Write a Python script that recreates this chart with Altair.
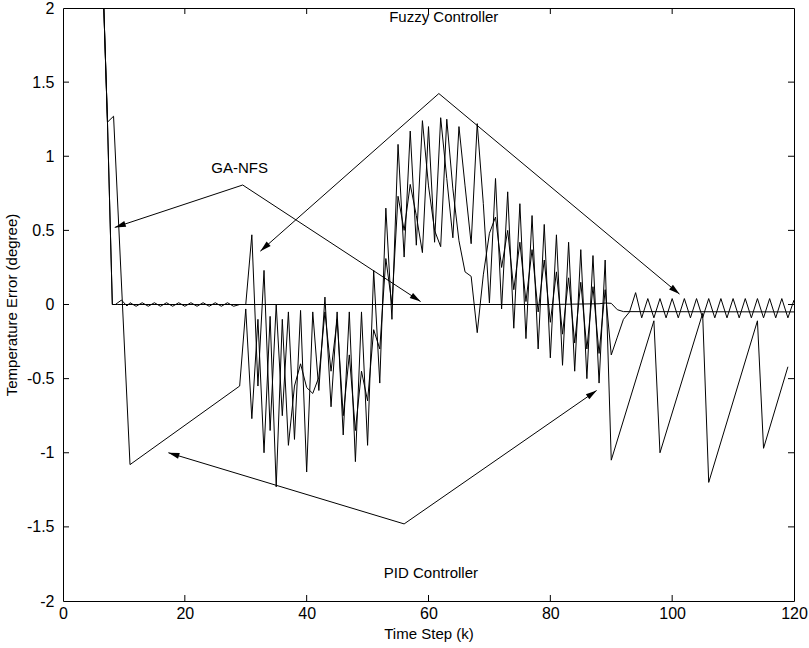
import math
import altair as alt
import pandas as pd

FONT = "Liberation Sans, Arial, sans-serif"
W, H = 731, 593
X_DOM = [0, 120]
Y_DOM = [-2, 2]

x_ticks = [0, 20, 40, 60, 80, 100, 120]
y_ticks = [-2, -1.5, -1, -0.5, 0, 0.5, 1, 1.5, 2]

# ---- GA-NFS ----
ga_k = [6.7, 7.3, 8.1, 9.0, 80, 88, 89, 90, 91, 92, 120]
ga_err = [2.0, 1.23, 0.0, 0.0, 0.0, 0.005, 0.01, 0.008, -0.035, -0.048, -0.05]

# ---- Fuzzy controller ----
fz_k = [6.7, 7.3, 8.1, 8.6, 9.6, 10.5] + list(range(11, 121))
fz_err = [2.0, 1.23, 0.0, 0.0, 0.03, -0.01,
          # k = 11 .. 28 (small ripple)
          0.012, -0.012, 0.012, -0.012, 0.012, -0.012, 0.012, -0.012, 0.012,
          -0.012, 0.012, -0.012, 0.012, -0.012, 0.012, -0.012, 0.012, -0.012,
          # k = 29 .. 50
          0.0, 0.0, 0.47, -0.55, 0.23, -0.85, 0.0, -0.75, -0.05, -0.91, -0.04,
          -1.13, -0.05, -0.58, 0.05, -0.69, -0.05, -0.88, -0.05, -1.06, -0.05, -0.95,
          # k = 51 .. 70
          0.23, -0.53, 0.65, -0.1, 1.08, 0.32, 1.17, 0.4, 1.24, 0.8,
          0.5, 0.39, 1.25, 0.78, 0.43, 0.22, 0.19, -0.19, 0.2, 0.48,
          # k = 71 .. 93
          0.59, 0.25, 0.5, 0.1, 0.42, 0.02, 0.37, -0.05, 0.3, -0.12,
          0.22, -0.2, 0.18, -0.26, 0.15, -0.3, 0.12, -0.33, 0.1, -0.34,
          -0.22, -0.1, -0.05,
          # k = 94 .. 120
          0.08, -0.09, 0.04, -0.09, 0.04, -0.09, 0.04, -0.09, 0.04, -0.09,
          0.04, -0.09, 0.04, -0.09, 0.04, -0.09, 0.04, -0.09, 0.04, -0.09,
          0.04, -0.09, 0.04, -0.09, 0.04, -0.09, 0.03]

# ---- PID controller ----
pid_k = [6.7, 7.3, 8.3, 11, 29] + list(range(30, 91)) + [97, 98, 105, 106, 114, 115, 119]
pid_err = [2.0, 1.23, 1.27, -1.08, -0.55,
           # k = 30 .. 50
           -0.03, -0.77, -0.1, -1.0, -0.08, -1.23, -0.1, -0.95, -0.55, -0.4,
           -0.56, -0.6, -0.49, -0.05, -0.45, -0.1, -0.75, -0.34, -0.85, -0.45, -0.65,
           # k = 51 .. 70
           -0.17, -0.3, 0.31, 0.0, 0.73, 0.5, 0.81, 0.6, 0.35, 1.2,
           0.42, 1.26, 0.85, 0.45, 1.2, 0.8, 0.41, 1.22, 0.68, 0.01,
           # k = 71 .. 90
           0.85, -0.03, 0.76, -0.16, 0.68, -0.23, 0.6, -0.3, 0.54, -0.36,
           0.47, -0.41, 0.42, -0.45, 0.37, -0.5, 0.33, -0.53, 0.3, -1.05,
           # sawtooth
           -0.11, -1.0, -0.06, -1.2, -0.11, -0.97, -0.42]

rows = []
for name, ks, es in [("GA-NFS", ga_k, ga_err), ("Fuzzy Controller", fz_k, fz_err),
                     ("PID Controller", pid_k, pid_err)]:
    for i, (k, e) in enumerate(zip(ks, es)):
        rows.append({"series": name, "k": k, "err": e, "idx": i})
df = pd.DataFrame(rows)

# ---- annotations ----
label_text = ["Fuzzy Controller", "GA-NFS", "PID Controller"]
label_x = [62.5, 29.0, 60.4]
label_y = [1.94, 0.92, -1.81]

arrow_x1 = [61.7, 61.7, 29.5, 29.5, 56.0, 56.0]
arrow_y1 = [1.423, 1.423, 0.806, 0.806, -1.48, -1.48]
arrow_x2 = [32.4, 101.2, 8.5, 58.7, 17.3, 87.6]
arrow_y2 = [0.36, 0.07, 0.52, 0.02, -1.0, -0.58]

sx = W / (X_DOM[1] - X_DOM[0])
sy = H / (Y_DOM[1] - Y_DOM[0])
arr = pd.DataFrame({"x1": arrow_x1, "y1": arrow_y1, "x2": arrow_x2, "y2": arrow_y2})
arr["angle"] = [
    math.degrees(math.atan2((b - a) * sx, (d - c) * sy)) % 360
    for a, b, c, d in zip(arrow_x1, arrow_x2, arrow_y1, arrow_y2)
]
labels = pd.DataFrame({"x": label_x, "y": label_y, "text": label_text})

xs = alt.Scale(domain=X_DOM, nice=False, zero=False)
ys = alt.Scale(domain=Y_DOM, nice=False, zero=False)

x_axis = alt.Axis(
    title="Time Step (k)", values=x_ticks, ticks=False, domain=False, grid=False,
    labelFont=FONT, labelFontSize=16, labelColor="black", labelPadding=4,
    titleFont=FONT, titleFontSize=15, titleColor="black", titleFontWeight="normal",
    titlePadding=5, labelFlush=False)
y_axis = alt.Axis(
    title="Temperature Error (degree)", values=y_ticks, ticks=False, domain=False,
    grid=False, labelExpr="'' + datum.value",
    labelFont=FONT, labelFontSize=16, labelColor="black", labelPadding=9,
    titleFont=FONT, titleFontSize=15, titleColor="black", titleFontWeight="normal",
    titlePadding=7, labelFlush=False)


def X(field):
    return alt.X(field, scale=xs, axis=x_axis)


def Y(field):
    return alt.Y(field, scale=ys, axis=y_axis)


lines = alt.Chart(df).mark_line(color="black", strokeWidth=1, clip=True).encode(
    x=X("k:Q"), y=Y("err:Q"), detail="series:N", order="idx:Q")

rules = alt.Chart(arr).mark_rule(color="black", strokeWidth=1).encode(
    x=X("x1:Q"), y=Y("y1:Q"), x2="x2:Q", y2="y2:Q")

heads = alt.Chart(arr).mark_point(
    shape="M0,0L-0.55,2L0.55,2Z", filled=True, color="black", opacity=1,
    size=121, strokeWidth=0).encode(
    x=X("x2:Q"), y=Y("y2:Q"), angle=alt.Angle("angle:Q", scale=None))

texts = alt.Chart(labels).mark_text(font=FONT, fontSize=15, color="black").encode(
    x=X("x:Q"), y=Y("y:Q"), text="text:N")

xt = pd.DataFrame({"v": x_ticks[1:-1]})
yt = pd.DataFrame({"v": y_ticks[1:-1]})
tick_bot = alt.Chart(xt).mark_rule(color="black", strokeWidth=1).encode(
    x=X("v:Q"), y=alt.value(H), y2=alt.value(H - 6))
tick_top = alt.Chart(xt).mark_rule(color="black", strokeWidth=1).encode(
    x=X("v:Q"), y=alt.value(0), y2=alt.value(6))
tick_left = alt.Chart(yt).mark_rule(color="black", strokeWidth=1).encode(
    y=Y("v:Q"), x=alt.value(0), x2=alt.value(6))
tick_right = alt.Chart(yt).mark_rule(color="black", strokeWidth=1).encode(
    y=Y("v:Q"), x=alt.value(W), x2=alt.value(W - 6))

chart = alt.layer(lines, tick_bot, tick_top, tick_left, tick_right, rules, heads, texts).properties(
    width=W, height=H,
    autosize=alt.AutoSizeParams(type="none"),
    padding={"left": 63, "top": 8, "right": 15, "bottom": 47},
    background="white",
).configure_view(stroke="black", strokeWidth=1)

chart.save("out.html", embed_options={"renderer": "svg", "actions": False})
